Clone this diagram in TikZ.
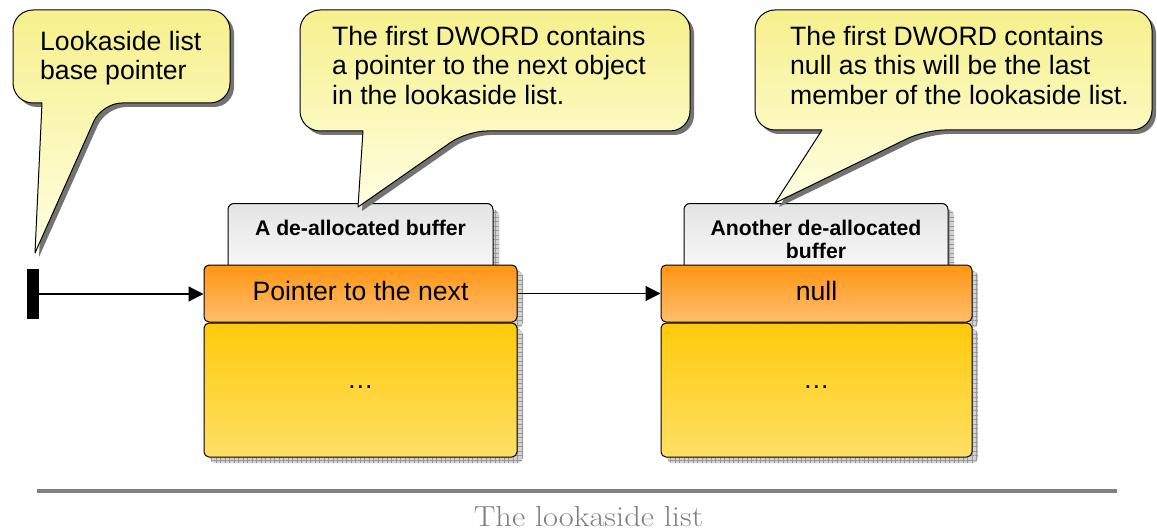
\documentclass[tikz,border=0pt]{standalone}
\usepackage{fontspec}
\setsansfont{Liberation Sans}
\usetikzlibrary{arrows.meta,patterns.meta}

\definecolor{bubbletop}{HTML}{F6F08C}
\definecolor{bubblebot}{HTML}{FFFFE2}
\definecolor{hdrtop}{HTML}{E4E4E4}
\definecolor{hdrbot}{HTML}{FFFFFF}
\definecolor{ortop}{HTML}{FF9514}
\definecolor{orbot}{HTML}{FFBE6C}
\definecolor{yeltop}{HTML}{FFC90A}
\definecolor{yelbot}{HTML}{FFE066}
\definecolor{rulegray}{HTML}{808080}

\tikzset{
  x=1pt, y=-1pt,
  % hatched drop shadow under the buffer boxes
  gridshadow/.style={
    preaction={fill=gray!35, transform canvas={shift={(6pt,-6pt)}}},
    preaction={pattern={Hatch[angle=0,distance=4.5pt,line width=0.4pt]},
               pattern color=gray!80, transform canvas={shift={(6pt,-6pt)}}}},
  hdrbox/.style={draw=black, line width=1pt, rounded corners=6pt,
    top color=hdrtop, bottom color=hdrbot, inner sep=0pt, gridshadow},
  hdrtext/.style={font=\sffamily\bfseries\fontsize{21.2}{23}\selectfont,
    align=center, inner sep=0pt, anchor=north},
  obox/.style={draw=black, line width=1pt, rounded corners=5pt,
    top color=ortop, bottom color=orbot, inner sep=0pt, gridshadow,
    font=\sffamily\fontsize{26.6}{30}\selectfont, text height=19pt, text depth=5.5pt},
  ybox/.style={draw=black, line width=1pt, rounded corners=5pt,
    top color=yeltop, bottom color=yelbot, inner sep=0pt, gridshadow,
    font=\sffamily\fontsize{26.6}{30}\selectfont, text height=3pt, text depth=7pt},
  bubble/.style={draw=black, line width=1pt, line join=round,
    top color=bubbletop, bottom color=bubblebot,
    preaction={fill=black!55, transform canvas={shift={(4pt,-4pt)}}}},
  bubbletext/.style={font=\sffamily\fontsize{26.6}{29.5}\selectfont,
    align=left, anchor=north west, inner sep=0pt},
  link/.style={line width=1.2pt, -{Triangle[length=15pt,width=15pt]}},
}

\begin{document}
\begin{tikzpicture}
\useasboundingbox (0,0) rectangle (1157,532);

% buffer headers
\node[hdrbox, minimum width=265pt, minimum height=90pt, anchor=north] (h1) at (360.5,203) {};
\node[hdrbox, minimum width=264pt, minimum height=90pt, anchor=north] (h2) at (816,203) {};
\node[hdrtext] (h1t) at (360.5,220) {A de-allocated buffer};
\node[hdrtext] (h2t) at (816,220) {Another de-allocated\\buffer};

% first DWORD of each buffer
\node[obox, minimum width=313pt, minimum height=57pt] (o1) at (360.5,293.5) {Pointer to the next};
\node[obox, minimum width=311pt, minimum height=57pt] (o2) at (816.5,293.5) {null};

% rest of each buffer
\node[ybox, minimum width=313pt, minimum height=134pt] (y1) at (360.5,390) {…};
\node[ybox, minimum width=311pt, minimum height=134pt] (y2) at (816.5,390) {…};

% list head
\node[fill=black, minimum width=12pt, minimum height=50pt, inner sep=0pt] (base) at (33,294) {};

% links
\draw[link] (base.east) -- (base.east -| o1.west);
\draw[link] (o1.east) -- (o1.east -| o2.west);

% callouts
\draw[bubble] (42,103) [rounded corners=20pt] -- (13,103) -- (13,10) -- (230,10)
  -- (230,103) -- (102,103) [sharp corners] -- (35,253) -- cycle;
\node[bubbletext] (c1) at (40,31) {Lookaside list\\base pointer};

\draw[bubble] (363,131) [rounded corners=20pt] -- (300,131) -- (300,10) -- (690,10)
  -- (690,131) -- (467,131) [sharp corners] -- (358,207) -- cycle;
\node[bubbletext] (c2) at (332,26) {The first DWORD contains\\a pointer to the next object\\in the lookaside list.};

\draw[bubble] (822,130) [rounded corners=20pt] -- (755,130) -- (755,10) -- (1152,10)
  -- (1152,130) -- (925,130) [sharp corners] -- (775,203) -- cycle;
\node[bubbletext] (c3) at (790,26) {The first DWORD contains\\null as this will be the last\\member of the lookaside list.};

% caption
\coordinate (rl) at (37,491);
\coordinate (rr) at (1117,491);
\draw[line width=4pt, rulegray] (rl) -- (rr);
\node[font=\fontsize{29}{32}\selectfont, text=rulegray, inner sep=0pt,
  transform shape, xscale=1.12] (cap) at (588.5,517) {The lookaside list};
\end{tikzpicture}
\end{document}
